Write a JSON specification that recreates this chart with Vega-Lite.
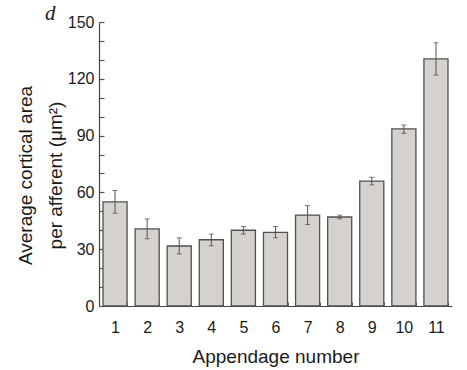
{
  "$schema": "https://vega.github.io/schema/vega-lite/v6.json",
  "width": 353,
  "height": 284,
  "autosize": {"type": "none"},
  "padding": {"left": 99, "top": 22, "right": 15, "bottom": 64},
  "background": "#ffffff",
  "config": {"view": {"stroke": null}, "font": "Liberation Sans"},
  "title": {
    "text": "d",
    "anchor": "start",
    "frame": "group",
    "font": "Liberation Serif",
    "fontStyle": "italic",
    "fontWeight": "normal",
    "fontSize": 21,
    "color": "#222222",
    "baseline": "alphabetic",
    "offset": 0,
    "dx": -54,
    "dy": 27
  },
  "data": {
    "values": [
      {"appendage": 1, "mean": 55, "lo": 49, "hi": 61},
      {"appendage": 2, "mean": 40.7, "lo": 35.5, "hi": 46},
      {"appendage": 3, "mean": 31.7, "lo": 27.5, "hi": 36},
      {"appendage": 4, "mean": 35, "lo": 31.8, "hi": 38},
      {"appendage": 5, "mean": 40, "lo": 38, "hi": 42},
      {"appendage": 6, "mean": 38.9, "lo": 36, "hi": 42},
      {"appendage": 7, "mean": 48, "lo": 43, "hi": 53},
      {"appendage": 8, "mean": 47, "lo": 46, "hi": 48},
      {"appendage": 9, "mean": 66, "lo": 64, "hi": 68},
      {"appendage": 10, "mean": 93.5, "lo": 91.2, "hi": 95.6},
      {"appendage": 11, "mean": 130.5, "lo": 122, "hi": 139}
    ]
  },
  "encoding": {
    "x": {
      "field": "appendage",
      "type": "ordinal",
      "scale": {"paddingInner": 0.25, "paddingOuter": 0.125},
      "axis": {
        "title": "Appendage number",
        "titleFont": "Liberation Sans",
        "titleFontSize": 19,
        "titleFontWeight": "normal",
        "titleColor": "#1a1a1a",
        "titlePadding": 12,
        "labelAngle": 0,
        "labelFontSize": 16,
        "labelColor": "#1a1a1a",
        "labelPadding": 17,
        "domainColor": "#444444",
        "domainWidth": 1.2,
        "tickBand": "extent",
        "tickSize": -4,
        "tickColor": "#666666",
        "tickWidth": 1
      }
    }
  },
  "layer": [
    {
      "mark": {"type": "bar", "fill": "#d5d2ce", "stroke": "#505050", "strokeWidth": 1.3},
      "encoding": {
        "y": {
          "field": "mean",
          "type": "quantitative",
          "scale": {"domain": [0, 150], "nice": false},
          "axis": {
            "title": ["Average cortical area", "per afferent (μm²)"],
            "titleFont": "Liberation Sans",
            "titleFontSize": 19,
            "titleFontWeight": "normal",
            "titleColor": "#1a1a1a",
            "titlePadding": 2,
            "titleLineHeight": 30,
            "titleY": 153,
            "values": [0, 10, 20, 30, 40, 50, 60, 70, 80, 90, 100, 110, 120, 130, 140, 150],
            "labelExpr": "datum.value % 30 === 0 ? datum.label : ''",
            "labelOverlap": false,
            "labelFlush": false,
            "labelFontSize": 16,
            "labelColor": "#1a1a1a",
            "labelPadding": 10,
            "grid": false,
            "domainColor": "#444444",
            "domainWidth": 1.2,
            "tickSize": -5,
            "tickColor": "#555555",
            "tickWidth": 1.2
          }
        }
      }
    },
    {
      "mark": {"type": "errorbar", "ticks": {"size": 5, "color": "#444444"}, "rule": {"color": "#555555", "strokeWidth": 1}},
      "encoding": {
        "y": {
          "field": "lo",
          "type": "quantitative",
          "scale": {"domain": [0, 150], "nice": false},
          "axis": {
            "title": ["Average cortical area", "per afferent (μm²)"],
            "titleFont": "Liberation Sans",
            "titleFontSize": 19,
            "titleFontWeight": "normal",
            "titleColor": "#1a1a1a",
            "titlePadding": 2,
            "titleLineHeight": 30,
            "titleY": 153,
            "values": [0, 10, 20, 30, 40, 50, 60, 70, 80, 90, 100, 110, 120, 130, 140, 150],
            "labelExpr": "datum.value % 30 === 0 ? datum.label : ''",
            "labelOverlap": false,
            "labelFlush": false,
            "labelFontSize": 16,
            "labelColor": "#1a1a1a",
            "labelPadding": 10,
            "grid": false,
            "domainColor": "#444444",
            "domainWidth": 1.2,
            "tickSize": -5,
            "tickColor": "#555555",
            "tickWidth": 1.2
          }
        },
        "y2": {"field": "hi"}
      }
    }
  ]
}
